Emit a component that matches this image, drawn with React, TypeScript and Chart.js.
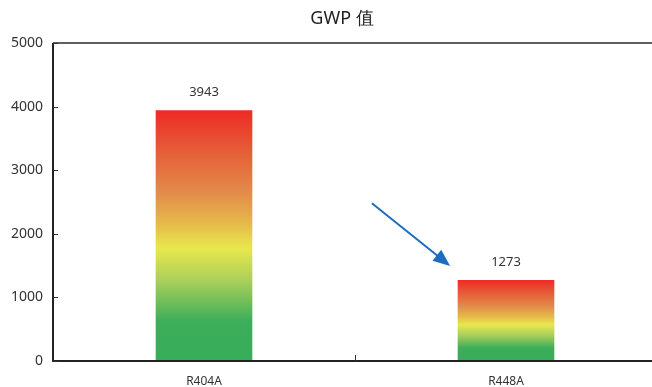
import React, { useEffect, useRef } from "react";
import { Chart, registerables } from "chart.js";

Chart.register(...registerables);

const categories = ["R404A", "R448A"];
const gwpValues = [3943, 1273];
const yTicks = [0, 1000, 2000, 3000, 4000, 5000];
const titleText = "GWP 值";
// arrow annotation in data coordinates: [categoryPosition, value]
const arrowStart = [0.556, 2480];
const arrowEnd = [0.815, 1495];

const gradientStops: [number, string][] = [
  [0, "#EE2A26"],
  [0.15, "#E65A36"],
  [0.32, "#E2894A"],
  [0.45, "#E6B84A"],
  [0.55, "#E8E84C"],
  [0.68, "#AACF5A"],
  [0.84, "#3DAE5A"],
  [1, "#38AD5A"],
];

const FONT = "'Noto Sans', 'Open Sans', sans-serif";

const overlayPlugin = {
  id: "overlay",
  afterDraw(chart: any) {
    const { ctx, chartArea, scales } = chart;
    const x = scales.x;
    const y = scales.y;
    ctx.save();
    // top frame line at max
    ctx.strokeStyle = "#2a2a2a";
    ctx.lineWidth = 1.5;
    ctx.beginPath();
    ctx.moveTo(chartArea.left, y.getPixelForValue(5000));
    ctx.lineTo(chartArea.right + 20, y.getPixelForValue(5000));
    ctx.stroke();
    // axes
    ctx.lineWidth = 2;
    ctx.strokeStyle = "#222";
    ctx.beginPath();
    ctx.moveTo(chartArea.left, chartArea.top);
    ctx.lineTo(chartArea.left, chartArea.bottom);
    ctx.lineTo(chartArea.right + 20, chartArea.bottom);
    ctx.stroke();
    // inner y ticks
    ctx.lineWidth = 1;
    ctx.strokeStyle = "#333";
    yTicks.forEach((t) => {
      const py = Math.round(y.getPixelForValue(t)) + 0.5;
      ctx.beginPath();
      ctx.moveTo(chartArea.left, py);
      ctx.lineTo(chartArea.left + 5, py);
      ctx.stroke();
    });
    // x boundary ticks between categories
    for (let i = 0; i < categories.length - 1; i++) {
      const px = Math.round(x.getPixelForValue(i + 0.5)) + 0.5;
      ctx.beginPath();
      ctx.moveTo(px, chartArea.bottom);
      ctx.lineTo(px, chartArea.bottom - 6);
      ctx.stroke();
    }
    // data labels
    ctx.fillStyle = "#333";
    ctx.font = `13px ${FONT}`;
    ctx.textAlign = "center";
    ctx.textBaseline = "middle";
    const meta = chart.getDatasetMeta(0);
    meta.data.forEach((bar: any, i: number) => {
      ctx.fillText(String(gwpValues[i]), bar.x, bar.y - 18);
    });
    // title
    ctx.font = `18px ${FONT}`;
    ctx.fillStyle = "#222";
    ctx.textBaseline = "middle";
    ctx.fillText(titleText, (chartArea.left + chartArea.right) / 2 - 13, 19);
    // arrow
    const x1 = x.getPixelForValue(arrowStart[0]);
    const y1 = y.getPixelForValue(arrowStart[1]);
    const x2 = x.getPixelForValue(arrowEnd[0]);
    const y2 = y.getPixelForValue(arrowEnd[1]);
    const ang = Math.atan2(y2 - y1, x2 - x1);
    const headLen = 17;
    const headW = 7;
    ctx.strokeStyle = "#1C6DC0";
    ctx.fillStyle = "#1C6DC0";
    ctx.lineWidth = 2;
    ctx.beginPath();
    ctx.moveTo(x1, y1);
    ctx.lineTo(x2 - Math.cos(ang) * (headLen - 2), y2 - Math.sin(ang) * (headLen - 2));
    ctx.stroke();
    const bx = x2 - Math.cos(ang) * headLen;
    const by = y2 - Math.sin(ang) * headLen;
    ctx.beginPath();
    ctx.moveTo(x2, y2);
    ctx.lineTo(bx + Math.sin(ang) * headW, by - Math.cos(ang) * headW);
    ctx.lineTo(bx - Math.sin(ang) * headW, by + Math.cos(ang) * headW);
    ctx.closePath();
    ctx.fill();
    ctx.restore();
  },
};

export default function App() {
  const ref = useRef<HTMLCanvasElement | null>(null);
  useEffect(() => {
    document.body.style.margin = "0";
    document.body.style.overflow = "hidden";
    const canvas = ref.current;
    if (!canvas) return;
    const chart = new Chart(canvas, {
      type: "bar",
      data: {
        labels: categories,
        datasets: [
          {
            data: gwpValues,
            barPercentage: 0.32,
            categoryPercentage: 1,
            backgroundColor: (ctx: any) => {
              const c = ctx.chart;
              const ys = c.scales && c.scales.y;
              if (!ys || ctx.dataIndex === undefined) return "#38AD5A";
              const v = gwpValues[ctx.dataIndex];
              const top = ys.getPixelForValue(v);
              const bottom = ys.getPixelForValue(0);
              if (!isFinite(top) || !isFinite(bottom)) return "#38AD5A";
              const g = c.ctx.createLinearGradient(0, top, 0, bottom);
              gradientStops.forEach(([o, col]) => g.addColorStop(o, col));
              return g;
            },
            borderWidth: 0,
          },
        ],
      },
      options: {
        animation: false,
        responsive: false,
        maintainAspectRatio: false,
        layout: { padding: { top: 43, right: 13, left: 0, bottom: 0 } },
        plugins: { legend: { display: false }, title: { display: false }, tooltip: { enabled: false } },
        scales: {
          x: {
            grid: { display: false, drawTicks: false },
            border: { display: false },
            ticks: { color: "#333", font: { family: FONT, size: 12 }, padding: 13 },
            afterFit: (s: any) => {
              s.height = 26;
            },
          },
          y: {
            min: 0,
            max: 5000,
            grid: { display: false, drawTicks: false },
            border: { display: false },
            ticks: {
              stepSize: 1000,
              color: "#333",
              font: { family: FONT, size: 14 },
              padding: 10,
              callback: (v: any) => String(v),
            },
            afterFit: (s: any) => {
              s.width = 53;
            },
          },
        },
      },
      plugins: [overlayPlugin],
    });
    return () => chart.destroy();
  }, []);
  return (
    <div style={{ position: "absolute", left: 0, top: 0, width: 652, height: 387, overflow: "hidden", background: "#fff" }}>
      <canvas ref={ref} width={670} height={387} style={{ width: 670, height: 387, display: "block" }} />
    </div>
  );
}
